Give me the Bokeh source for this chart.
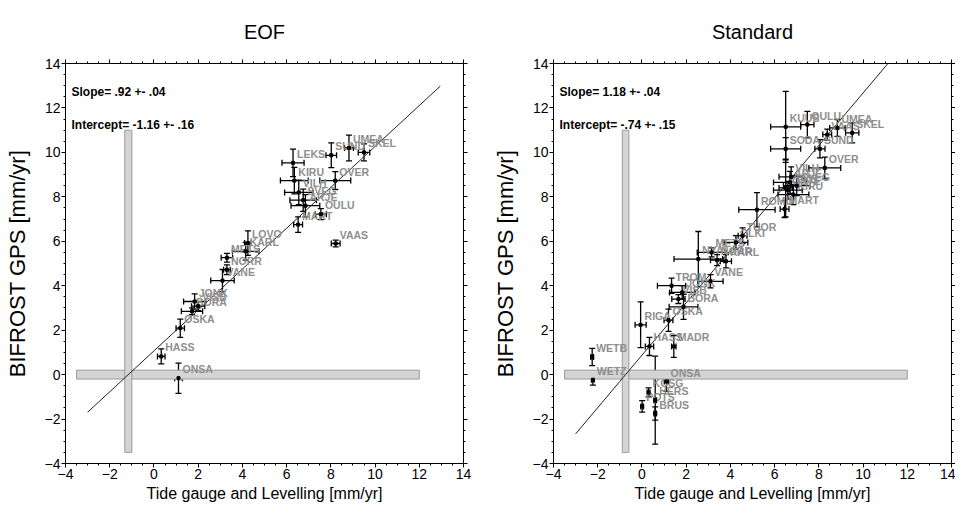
from bokeh.plotting import figure
from bokeh.models import (ColumnDataSource, Whisker, TeeHead, Label, LinearAxis,
                          SingleIntervalTicker, Range1d)
from bokeh.layouts import row
from bokeh.embed import file_html
from bokeh.resources import INLINE
from bokeh.core.properties import value

# ---------------- data ----------------
titles = ["EOF", "Standard"]
x_label = "Tide gauge and Levelling [mm/yr]"
y_label = "BIFROST GPS [mm/yr]"

eof_names = ["LEKS", "SUND", "UMEA", "SKEL", "KIRU", "OVER", "VILH", "SVEG", "ARJE",
             "OULU", "MART", "VAAS", "LOVO", "KARL", "METS", "NORR", "VANE", "JONK",
             "VISB", "BORA", "OSKA", "HASS", "ONSA"]
eof_x = [6.29, 8.02, 8.82, 9.50, 6.35, 8.20, 6.55, 6.75, 6.85,
         7.55, 6.52, 8.22, 4.25, 4.15, 3.30, 3.30, 3.10, 1.84,
         2.00, 1.72, 1.19, 0.33, 1.11]
eof_y = [9.53, 9.87, 10.20, 10.00, 8.73, 8.73, 8.20, 7.85, 7.60,
         7.22, 6.75, 5.90, 5.92, 5.55, 5.26, 4.72, 4.23, 3.29,
         3.08, 2.85, 2.09, 0.82, -0.16]
eof_xerr = [0.50, 0.24, 0.20, 0.26, 0.63, 0.70, 0.64, 0.60, 0.65,
            0.25, 0.20, 0.20, 0.15, 0.60, 0.26, 0.15, 0.53, 0.50,
            0.30, 0.48, 0.19, 0.17, 0.17]
eof_yerr = [0.62, 0.56, 0.58, 0.38, 0.60, 0.40, 0.55, 0.50, 0.50,
            0.25, 0.35, 0.15, 0.55, 0.40, 0.20, 0.22, 0.50, 0.34,
            0.20, 0.15, 0.41, 0.34, 0.68]

std_names = ["KUUS", "OULU", "UMEA", "VAAS", "SKEL", "SODA", "SUND", "OVER", "VILH",
             "ARJE", "SVEG", "LEKS", "OSTE", "KIRU", "ROMU", "MART", "TUOR", "OLKI",
             "NYAL", "METS", "NORR", "KARL", "VANE", "TROM", "JONK", "VISB", "BORA",
             "OSKA", "RIGA", "HASS", "MADR", "WETB", "WETZ", "ONSA", "KOSG", "HERS",
             "POTS", "BRUS"]
std_x = [6.50, 7.48, 8.84, 8.38, 9.51, 6.50, 8.05, 8.27, 6.75,
         6.70, 7.00, 6.50, 6.60, 6.85, 5.20, 6.45, 4.55, 4.25,
         2.55, 3.15, 3.40, 3.80, 3.10, 1.34, 1.82, 1.65, 1.88,
         1.20, -0.06, 0.34, 1.44, -2.25, -2.22, 1.11, 0.30, 0.60,
         0.01, 0.60]
std_y = [11.15, 11.25, 11.10, 10.80, 10.88, 10.16, 10.16, 9.30, 8.90,
         8.65, 8.50, 8.40, 8.30, 8.10, 7.42, 7.45, 6.25, 5.95,
         5.20, 5.50, 5.15, 5.10, 4.20, 4.00, 3.70, 3.40, 3.05,
         2.45, 2.24, 1.27, 1.27, 0.79, -0.23, -0.31, -0.80, -1.15,
         -1.43, -1.75]
std_xerr = [0.68, 0.30, 0.35, 0.20, 0.30, 0.68, 0.23, 0.72, 0.55,
            0.75, 0.60, 0.30, 0.65, 0.70, 0.82, 0.20, 0.20, 0.54,
            1.10, 0.65, 0.30, 0.25, 0.57, 0.64, 0.57, 0.30, 0.65,
            0.20, 0.25, 0.19, 0.10, 0.06, 0.06, 0.10, 0.06, 0.06,
            0.06, 0.06]
std_yerr = [1.60, 0.60, 0.38, 0.25, 0.45, 0.50, 0.41, 0.49, 0.45,
            0.50, 0.45, 1.30, 0.40, 0.45, 0.77, 0.38, 0.35, 0.30,
            1.24, 0.20, 0.25, 0.30, 0.30, 0.34, 0.30, 0.20, 0.56,
            0.50, 1.03, 0.41, 0.49, 0.39, 0.24, 0.44, 0.20, 1.98,
            0.26, 0.30]

slopes = [0.92, 1.18]
intercepts = [-1.16, -0.74]
intercept_errs = [0.16, 0.15]
slope_texts = ["Slope= .92 +- .04", "Slope= 1.18 +- .04"]
intercept_texts = ["Intercept= -1.16 +- .16", "Intercept= -.74 +- .15"]
fit_x_range = [-3.0, 12.95]
hband_x = [-3.5, 12.0]
hband_half = 0.2
vband_y = [-3.5, 11.0]

FONT = "Liberation Sans"


def panel(idx, names, xs, ys, xe, ye, border_left, border_right):
    p = figure(frame_width=398, frame_height=400,
               x_range=Range1d(-4, 14), y_range=Range1d(-4, 14),
               output_backend="svg", toolbar_location=None,
               min_border_left=border_left, min_border_right=border_right,
               min_border_top=63, min_border_bottom=40)
    p.outline_line_color = "black"
    p.outline_line_width = 1
    p.grid.visible = False
    p.background_fill_color = "white"
    p.border_fill_color = "white"

    p.title.text = titles[idx]
    p.title.align = "center"
    p.title.vertical_align = "top"
    p.title.text_font = FONT
    p.title.text_font_size = "20px"
    p.title.text_font_style = "normal"
    p.title.text_color = "black"
    p.title.standoff = 30

    for ax in [p.xaxis[0], p.yaxis[0]]:
        ax.ticker = SingleIntervalTicker(interval=2, num_minor_ticks=4)
        ax.major_tick_out = 4
        ax.major_tick_in = 0
        ax.minor_tick_out = 2
        ax.minor_tick_in = 0
        ax.major_label_standoff = 1
        ax.major_label_text_font = FONT
        ax.major_label_text_font_size = "14px"
        ax.major_label_text_color = "black"
        ax.axis_label_text_font = FONT
        ax.axis_label_text_font_style = "normal"
        ax.axis_label_text_color = "black"
        ax.axis_line_color = "black"
    p.xaxis[0].axis_label = x_label
    p.xaxis[0].axis_label_text_font_size = "16px"
    p.xaxis[0].axis_label_standoff = 3
    p.yaxis[0].axis_label = y_label
    p.yaxis[0].axis_label_text_font_size = "22px"
    p.yaxis[0].axis_label_standoff = 12

    for loc in ["above", "right"]:
        ax = LinearAxis(ticker=SingleIntervalTicker(interval=2, num_minor_ticks=4),
                        major_tick_out=4, major_tick_in=0, minor_tick_out=2, minor_tick_in=0,
                        major_label_text_font_size="1px", major_label_text_color=None,
                        major_label_standoff=0, axis_line_color="black")
        p.add_layout(ax, loc)

    # confidence bands
    p.quad(left=[hband_x[0]], right=[hband_x[1]],
           bottom=[-hband_half], top=[hband_half],
           fill_color="#d4d4d4", line_color="#9c9c9c", line_width=1)
    ic, ie = intercepts[idx], intercept_errs[idx]
    p.quad(left=[ic - ie], right=[ic + ie], bottom=[vband_y[0]], top=[vband_y[1]],
           fill_color="#d4d4d4", line_color="#9c9c9c", line_width=1)

    # regression line
    s = slopes[idx]
    x0 = fit_x_range[0]
    x1 = min(fit_x_range[1], ic + 14.0 / s)
    p.line([x0, x1], [s * (x0 - ic), s * (x1 - ic)], line_color="#222222", line_width=1)

    src = ColumnDataSource(dict(
        name=names, x=xs, y=ys,
        xl=[a - b for a, b in zip(xs, xe)], xu=[a + b for a, b in zip(xs, xe)],
        yl=[a - b for a, b in zip(ys, ye)], yu=[a + b for a, b in zip(ys, ye)]))

    # labels (under the error bars)
    p.text(x="x", y="y", text="name", source=src, x_offset=4, y_offset=-3,
           text_font=value(FONT), text_font_style="bold", text_font_size="10.5px",
           text_color="#8e8e8e", text_baseline="bottom", text_align="left")

    wx = Whisker(source=src, base="y", lower="xl", upper="xu", dimension="width",
                 line_color="black", line_width=1.3,
                 lower_head=TeeHead(size=6, line_color="black", line_width=1.3),
                 upper_head=TeeHead(size=6, line_color="black", line_width=1.3))
    wy = Whisker(source=src, base="x", lower="yl", upper="yu", dimension="height",
                 line_color="black", line_width=1.3,
                 lower_head=TeeHead(size=6, line_color="black", line_width=1.3),
                 upper_head=TeeHead(size=6, line_color="black", line_width=1.3))
    p.add_layout(wx)
    p.add_layout(wy)
    p.scatter(x="x", y="y", source=src, marker="square", size=3,
              fill_color="black", line_color="black")

    # statistics text
    p.add_layout(Label(x=-3.73, y=12.74, text=slope_texts[idx], text_font=FONT,
                       text_font_style="bold", text_font_size="12px", text_color="black",
                       text_baseline="alphabetic"))
    p.add_layout(Label(x=-3.73, y=11.25, text=intercept_texts[idx], text_font=FONT,
                       text_font_style="bold", text_font_size="12px", text_color="black",
                       text_baseline="alphabetic"))
    return p


p1 = panel(0, eof_names, eof_x, eof_y, eof_xerr, eof_yerr, 65, 26)
p2 = panel(1, std_names, std_x, std_y, std_xerr, std_yerr, 63, 3)
layout = row(p1, p2)

open("out.html", "w").write(file_html(layout, INLINE))
